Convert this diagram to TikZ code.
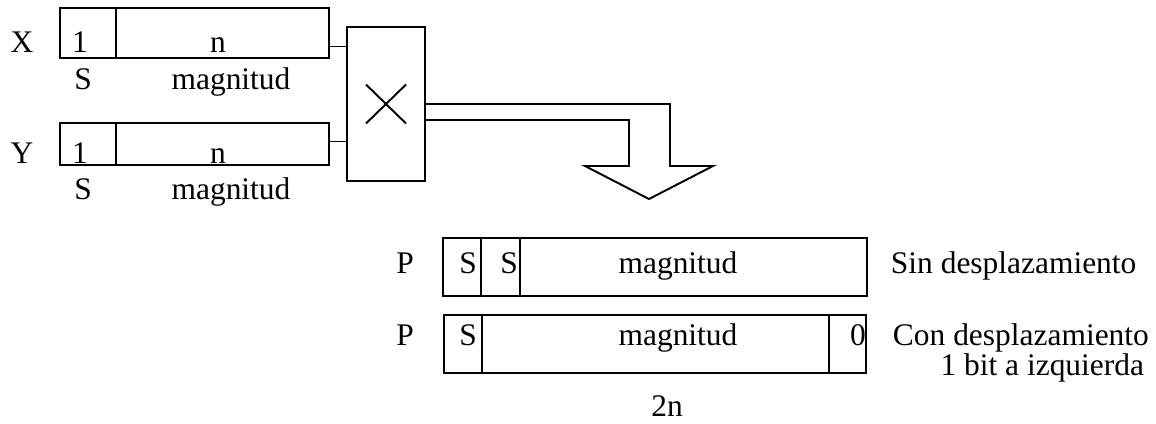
\documentclass[tikz,border=0pt]{standalone}
\usepackage{fontspec}
\setmainfont{Liberation Serif}
\usepackage{tikz}
\tikzstyle{reg} = [rectangle, draw=black, inner sep=0pt]
\tikzstyle{multbox} = [rectangle, draw=black, inner sep=0pt, minimum width=1.56cm, minimum height=3.08cm]
\tikzstyle{lbl} = [inner sep=0pt, anchor=base]
\tikzstyle{wire} = [line width=1.1pt]

\begin{document}
\begin{tikzpicture}[x=0.02cm, y=-0.02cm, line width=1.1pt, font=\fontsize{17.9}{21}\selectfont]
        \useasboundingbox (0,0) rectangle (1156,423);

        % input registers
        \node (xreg) [reg, minimum width=5.38cm, minimum height=1.0cm] at (194.5,33) {};
        \node (yreg) [reg, minimum width=5.38cm, minimum height=0.84cm] at (194.5,144) {};
        \draw ([xshift=1.14cm]xreg.north west) -- ([xshift=1.14cm]xreg.south west);
        \draw ([xshift=1.14cm]yreg.north west) -- ([xshift=1.14cm]yreg.south west);

        \node (xname) [lbl] at (22,52) {X};
        \node (yname) [lbl] at (22,163) {Y};
        \node (xsign) [lbl] at (80,52) {1};
        \node (ysign) [lbl] at (80,163) {1};
        \node (xmag) [lbl] at (218,52) {n};
        \node (ymag) [lbl] at (218,163) {n};
        \node (xs) [lbl] at (83,89) {S};
        \node (xm) [lbl] at (231,89) {magnitud};
        \node (ys) [lbl] at (83,199) {S};
        \node (ym) [lbl] at (231,199) {magnitud};

        % multiplier
        \node (mult) [multbox] at (386,104) {};
        \draw (mult.center) ++(-20,-19.5) -- ++(40,39);
        \draw (mult.center) ++(-20,19.5) -- ++(40,-39);

        \draw [wire] ([yshift=-0.27cm]xreg.east) -- ([yshift=-0.27cm]xreg.east -| mult.west);
        \draw [wire] ([yshift=0.05cm]yreg.east) -- ([yshift=0.05cm]yreg.east -| mult.west);

        % wide arrow to the product
        \draw [line join=miter] (mult.east) -- (670,104) -- (670,166) -- (713,166) -- (649,199)
            -- (585,166) -- (629,166) -- (629,120) -- (mult.east |- 0,120);

        % product registers
        \node (prodplain) [reg, minimum width=8.48cm, minimum height=1.16cm] at (655,267) {};
        \node (prodshift) [reg, minimum width=8.44cm, minimum height=1.16cm] at (655,344) {};
        \draw ([xshift=0.78cm]prodplain.north west) -- ([xshift=0.78cm]prodplain.south west);
        \draw ([xshift=1.56cm]prodplain.north west) -- ([xshift=1.56cm]prodplain.south west);
        \draw ([xshift=0.78cm]prodshift.north west) -- ([xshift=0.78cm]prodshift.south west);
        \draw ([xshift=-0.76cm]prodshift.north east) -- ([xshift=-0.76cm]prodshift.south east);

        \node (pname1) [lbl] at (405,273) {P};
        \node (pname2) [lbl] at (405,345) {P};
        \node (psign1) [lbl] at (468,273) {S};
        \node (psign2) [lbl] at (509,273) {S};
        \node (pmag1) [lbl] at (678,273) {magnitud};
        \node (psign3) [lbl] at (468,345) {S};
        \node (pmag2) [lbl] at (678,345) {magnitud};
        \node (pzero) [lbl] at (858,345) {0};

        \node (noshift) [lbl, anchor=base west] at (890,273) {Sin desplazamiento};
        \node (withshift) [lbl, anchor=base west] at (892,345) {Con desplazamiento};
        \node (onebit) [lbl, anchor=base east] at (1145,375) {1 bit a izquierda};
        \node (width) [lbl] at (667,416) {2n};
    \end{tikzpicture}
\end{document}
